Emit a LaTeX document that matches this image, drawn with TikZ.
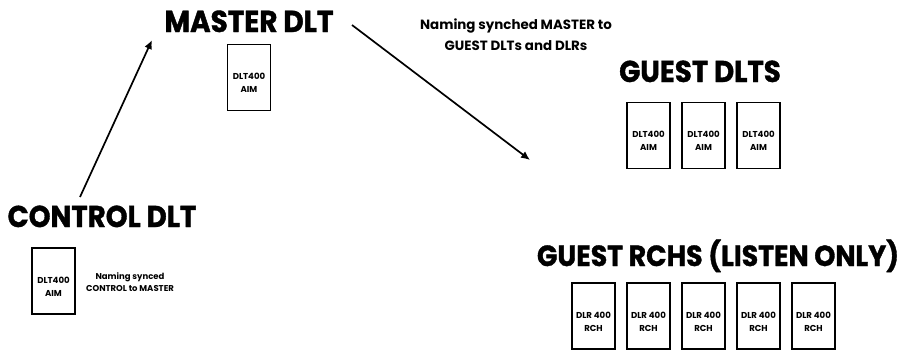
\documentclass[tikz,border=0pt]{standalone}
\usepackage{fontspec}
\setmainfont{Poppins}
\newfontfamily\headfont{Poppins}[FakeStretch=0.92, FakeBold=1.2]
\usetikzlibrary{arrows.meta, positioning}

\begin{document}
\begin{tikzpicture}[
  x=1pt, y=-1pt,
  % ---- styles ----
  heading/.style={%
    font=\headfont\fontsize{#1}{#1}\selectfont\bfseries, inner sep=0pt,
    outer sep=0pt,
  },
  unitbox/.style 2 args={%
    draw=black, line width=1.3pt, minimum width=43pt, minimum height=66pt,
    inner sep=0pt, outer sep=0pt,
    label={[font=\fontsize{8.6}{13}\selectfont\bfseries, align=center,
            yshift=-6pt]center:#1\\#2},
  },
  remark/.style 2 args={font=\fontsize{#1}{#2}\selectfont\bfseries,
    align=center, inner sep=0pt},
  flow/.style={line width=1.7pt, -{Latex[length=9pt,width=8pt]}},
]

\useasboundingbox (0,0) rectangle (901,349);

% =========================================================
% Headings
% =========================================================
\node[heading=30.3, anchor=base] (mst) at (249,32)   {MASTER DLT};
\node[heading=30.1, anchor=base] (gdl) at (700,82)   {GUEST DLTS};
\node[heading=30.1, anchor=base] (ctl) at (102,227)  {CONTROL DLT};
\node[heading=29.1, anchor=base] (rch) at (718,266)  {GUEST RCHS (LISTEN ONLY)};

% =========================================================
% Master
% =========================================================
\node[unitbox={DLT400}{AIM}, below=12pt of mst] (m1) {};

% =========================================================
% Guest DLTs
% =========================================================
\node[unitbox={DLT400}{AIM}, below=20pt of gdl, xshift=3.5pt] (g2) {};
\node[unitbox={DLT400}{AIM}, left=12pt of g2]  (g1) {};
\node[unitbox={DLT400}{AIM}, right=12pt of g2] (g3) {};

% =========================================================
% Control
% =========================================================
\node[unitbox={DLT400}{AIM}] (c1) at (53.5,281) {};
\node[remark={8.5}{12}, anchor=base] (cnote) at (130,291)
    {Naming synced\\CONTROL to MASTER};

% =========================================================
% Guest RCHs
% =========================================================
\node[unitbox={DLR 400}{RCH}] (r3) at (703.5,316) {};
\node[unitbox={DLR 400}{RCH}, left=12pt of r3]  (r2) {};
\node[unitbox={DLR 400}{RCH}, left=12pt of r2]  (r1) {};
\node[unitbox={DLR 400}{RCH}, right=12pt of r3] (r4) {};
\node[unitbox={DLR 400}{RCH}, right=12pt of r4] (r5) {};

% =========================================================
% Sync arrows
% =========================================================
\node[remark={13.4}{20.5}, anchor=base] (mnote) at (516,50)
    {Naming synched MASTER to\\GUEST DLTs and DLRs};

\coordinate (ctlout) at (80,197);
\coordinate (mstin)  at (152,40);
\coordinate (mstout) at (352,25);
\coordinate (gstin)  at (530,160);

\draw[flow] (ctlout) -- (mstin);
\draw[flow] (mstout) -- (gstin);

\end{tikzpicture}
\end{document}
